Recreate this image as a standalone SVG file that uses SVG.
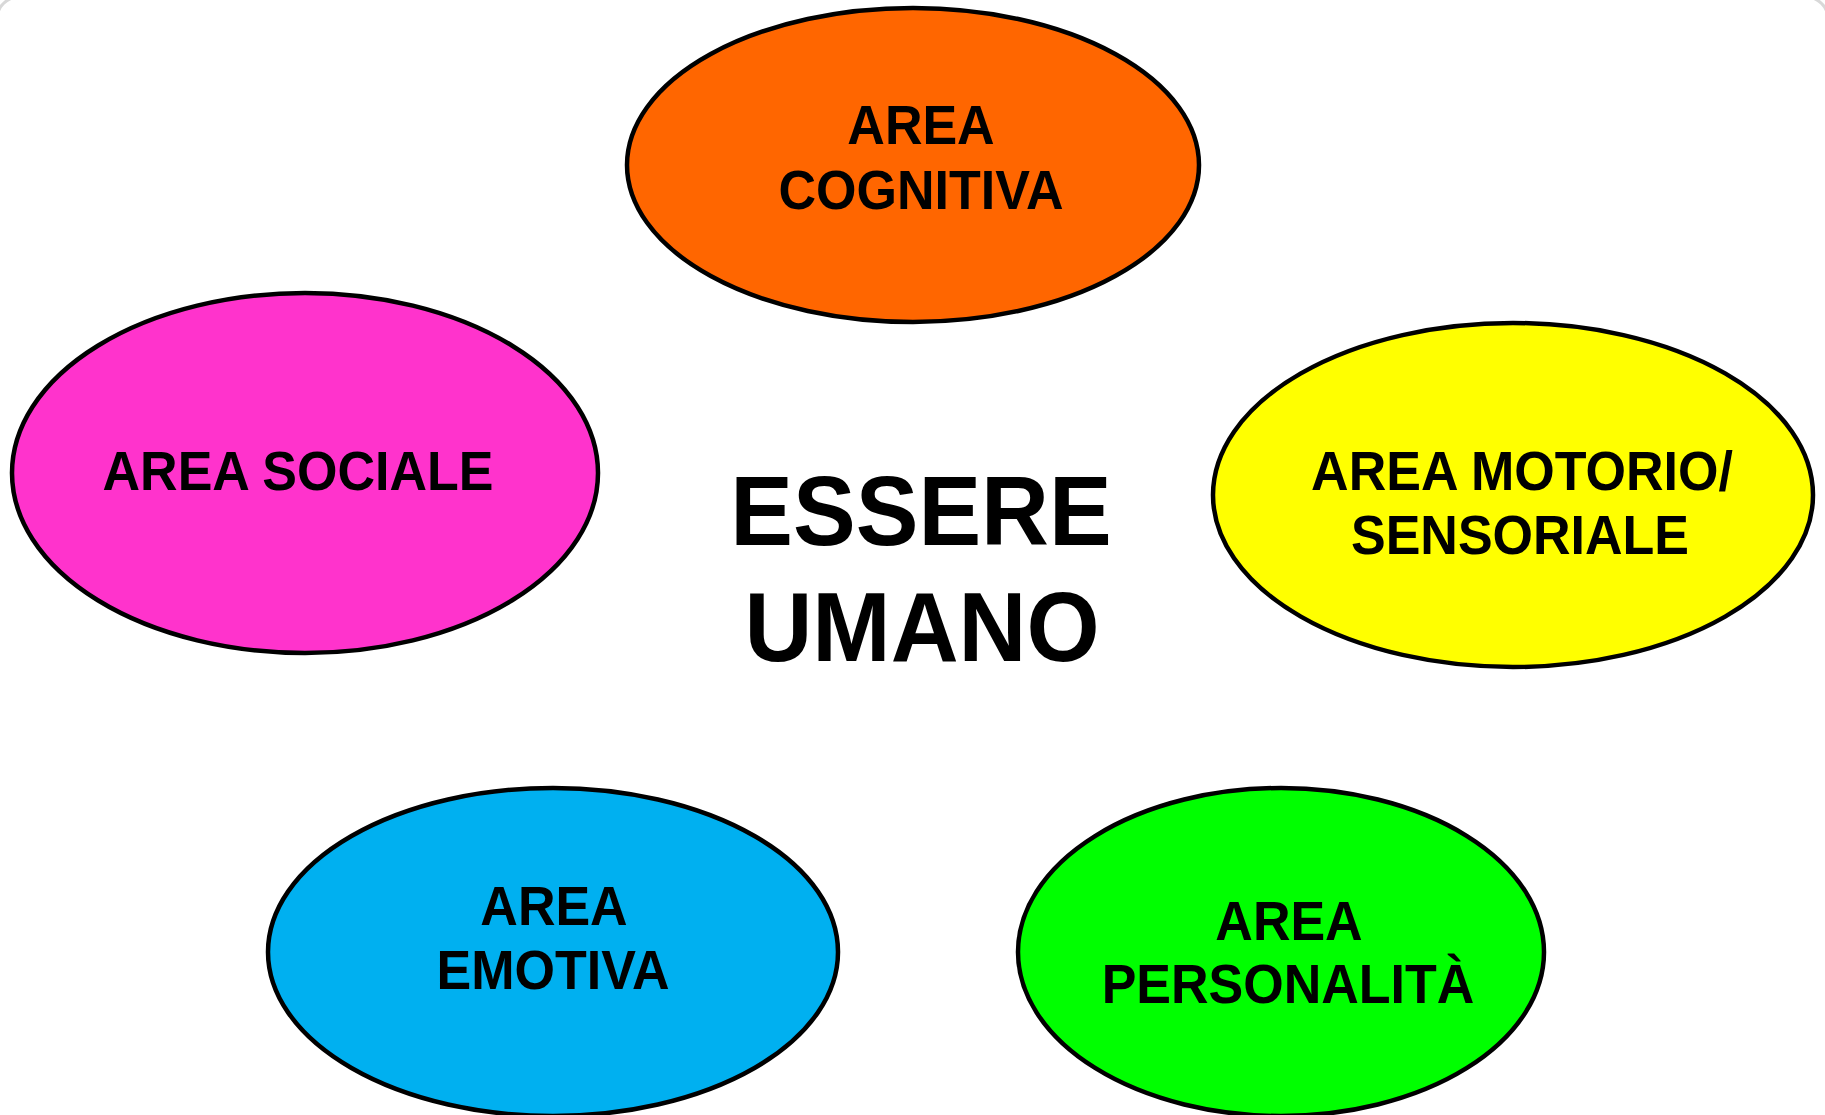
<svg xmlns="http://www.w3.org/2000/svg" width="1825" height="1115" viewBox="0 0 1825 1115">
<style>
.n{stroke:#000;stroke-width:4.5}
.t{font-family:"Liberation Sans",Arial,sans-serif;font-weight:bold;font-size:52px;fill:#000;text-anchor:middle}
.c{font-family:"Liberation Sans",Arial,sans-serif;font-weight:bold;font-size:94px;fill:#000;text-anchor:middle}
</style>
<rect x="0" y="0" width="1825" height="1115" fill="#fff"/>
<rect x="-3" y="-3" width="1831" height="1200" rx="22" fill="none" stroke="#d8d8d8" stroke-width="3"/>
<g id="connectors"></g>
<g id="cognitiva">
<ellipse class="n" cx="913" cy="165" rx="286" ry="157" fill="#FF6600"/>
<text class="t" transform="translate(921,144) scale(1,1.06)">AREA</text>
<text class="t" transform="translate(921,209) scale(1,1.06)">COGNITIVA</text>
</g>
<g id="sociale">
<ellipse class="n" cx="305" cy="473" rx="293" ry="180" fill="#FF33CC"/>
<text class="t" transform="translate(298,490) scale(1,1.06)">AREA SOCIALE</text>
</g>
<g id="motorio">
<ellipse class="n" cx="1513" cy="495" rx="300" ry="172" fill="#FFFF00"/>
<text class="t" transform="translate(1522,490) scale(1,1.06)">AREA MOTORIO/</text>
<text class="t" transform="translate(1520,554) scale(1,1.06)">SENSORIALE</text>
</g>
<g id="emotiva">
<ellipse class="n" cx="553" cy="952" rx="285" ry="164" fill="#00B0F0"/>
<text class="t" transform="translate(554,925) scale(1,1.06)">AREA</text>
<text class="t" transform="translate(553,989) scale(1,1.06)">EMOTIVA</text>
</g>
<g id="personalita">
<ellipse class="n" cx="1281" cy="952" rx="263" ry="164" fill="#00FF00"/>
<text class="t" transform="translate(1289,940) scale(1,1.06)">AREA</text>
<text class="t" transform="translate(1288,1003) scale(1,1.06)">PERSONALITÀ</text>
</g>
<g id="essere">
<text class="c" transform="translate(921,545) scale(1,1.04)">ESSERE</text>
<text class="c" transform="translate(922,661) scale(1,1.04)">UMANO</text>
</g>
</svg>
